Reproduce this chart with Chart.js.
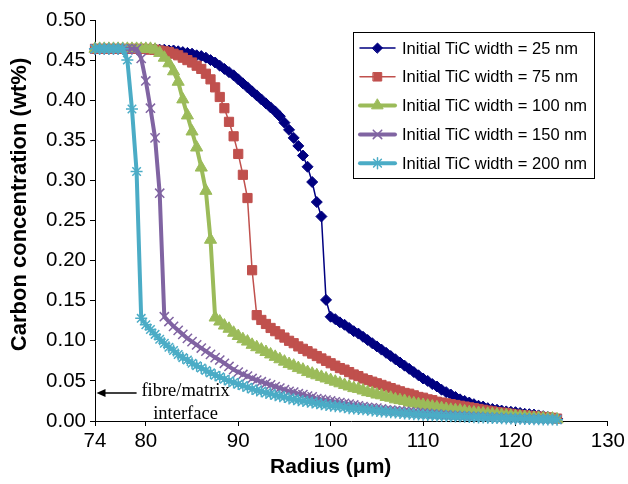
<!DOCTYPE html>
<html>
<head>
<meta charset="utf-8">
<script src="https://cdn.jsdelivr.net/npm/chart.js@4.4.0/dist/chart.umd.min.js"></script>
<style>
  body { margin: 0; background: #fff; }
  #wrap { width: 628px; height: 484px; }
</style>
</head>
<body>
<div id="wrap"><canvas id="chart" width="628" height="484"></canvas></div>
<script>
// radius grid (um), 0.5 um steps, one row = 5 um
const radius = [
  74.5, 75, 75.5, 76, 76.5, 77, 77.5, 78, 78.5, 79,
  79.5, 80, 80.5, 81, 81.5, 82, 82.5, 83, 83.5, 84,
  84.5, 85, 85.5, 86, 86.5, 87, 87.5, 88, 88.5, 89,
  89.5, 90, 90.5, 91, 91.5, 92, 92.5, 93, 93.5, 94,
  94.5, 95, 95.5, 96, 96.5, 97, 97.5, 98, 98.5, 99,
  99.5, 100, 100.5, 101, 101.5, 102, 102.5, 103, 103.5, 104,
  104.5, 105, 105.5, 106, 106.5, 107, 107.5, 108, 108.5, 109,
  109.5, 110, 110.5, 111, 111.5, 112, 112.5, 113, 113.5, 114,
  114.5, 115, 115.5, 116, 116.5, 117, 117.5, 118, 118.5, 119,
  119.5, 120, 120.5, 121, 121.5, 122, 122.5, 123, 123.5, 124,
  124.5
];

// carbon concentration (wt%) for each initial TiC width
const conc25 = [
  .464, .464, .464, .464, .464, .464, .464, .464, .464, .464,
  .464, .464, .464, .464, .463, .463, .462, .462, .461, .460,
  .459, .458, .456, .455, .453, .450, .447, .443, .439, .435,
  .431, .426, .421, .416, .411, .406, .401, .396, .391, .386,
  .380, .372, .363, .353, .343, .331, .317, .298, .273, .255,
  .151, .130, .127, .123, .120, .116, .112, .109, .105, .101,
  .097, .093, .089, .085, .081, .077, .073, .069, .065, .061,
  .057, .053, .050, .046, .043, .039, .036, .033, .030, .027,
  .025, .023, .021, .019, .018, .016, .015, .014, .013, .012,
  .0115, .011, .010, .009, .0085, .008, .007, .006, .005, .004,
  .003
];
const conc75 = [
  .464, .464, .464, .464, .464, .464, .464, .464, .464, .464,
  .464, .464, .463, .463, .462, .461, .460, .458, .456, .453,
  .450, .447, .443, .439, .433, .426, .416, .404, .390, .373,
  .355, .333, .307, .278, .188, .132, .126, .121, .116, .112,
  .108, .104, .100, .097, .093, .090, .087, .084, .081, .078,
  .075, .072, .069, .066, .064, .061, .058, .056, .053, .051,
  .049, .047, .045, .043, .041, .039, .037, .035, .034, .032,
  .030, .029, .027, .026, .024, .023, .022, .021, .020, .019,
  .018, .017, .016, .015, .014, .013, .012, .011, .0105, .010,
  .009, .008, .0075, .007, .0065, .006, .0055, .005, .0045, .004,
  .003
];
const conc100 = [
  .464, .464, .464, .464, .464, .464, .464, .464, .464, .464,
  .464, .464, .464, .463, .459, .453, .446, .436, .423, .401,
  .381, .361, .341, .316, .287, .226, .129, .124, .119, .115,
  .110, .106, .102, .099, .095, .092, .089, .086, .083, .080,
  .077, .074, .071, .069, .066, .064, .061, .059, .057, .055,
  .053, .051, .049, .047, .045, .043, .041, .040, .038, .036,
  .035, .033, .032, .030, .029, .027, .026, .025, .023, .022,
  .021, .020, .019, .018, .017, .016, .015, .014, .0135, .013,
  .012, .011, .0105, .010, .0095, .009, .0085, .008, .0075, .007,
  .0065, .006, .0055, .005, .0045, .004, .004, .0035, .003, .003,
  .002
];
const conc150 = [
  .464, .464, .464, .464, .464, .464, .464, .464, .464, .464,
  .452, .424, .390, .353, .284, .130, .124, .118, .113, .108,
  .103, .099, .095, .091, .087, .083, .079, .076, .072, .068,
  .064, .061, .058, .056, .053, .051, .049, .047, .045, .043,
  .041, .039, .037, .036, .034, .033, .031, .030, .028, .027,
  .026, .025, .024, .023, .022, .021, .020, .019, .018, .017,
  .0165, .016, .015, .014, .0135, .013, .0125, .012, .0115, .011,
  .0105, .010, .0095, .009, .0085, .008, .0075, .007, .0068, .0065,
  .006, .0058, .0055, .005, .0048, .0045, .0043, .004, .0038, .0035,
  .0033, .003, .003, .0028, .0026, .0025, .0023, .0022, .002, .002,
  .002
];
const conc200 = [
  .464, .464, .464, .464, .464, .464, .464, .450, .389, .311,
  .128, .120, .114, .108, .102, .097, .092, .088, .083, .079,
  .076, .072, .069, .066, .063, .060, .057, .055, .052, .050,
  .048, .046, .044, .042, .040, .038, .037, .035, .034, .032,
  .031, .030, .028, .027, .026, .025, .024, .023, .022, .021,
  .020, .019, .0185, .018, .017, .016, .0155, .015, .0145, .014,
  .013, .0125, .012, .0115, .011, .0105, .010, .0095, .009, .0085,
  .008, .0078, .0075, .0072, .007, .0065, .0062, .006, .0057, .0055,
  .0052, .005, .0047, .0045, .0043, .004, .0038, .0036, .0034, .0032,
  .003, .0029, .0028, .0026, .0025, .0023, .0022, .002, .002, .0018,
  .0015
];

const seriesNames = [
  'Initial TiC width = 25 nm',
  'Initial TiC width = 75 nm',
  'Initial TiC width = 100 nm',
  'Initial TiC width = 150 nm',
  'Initial TiC width = 200 nm'
];

const xMin = 74.5;
const xMax = 130;
const xTickValues = [74.5, 80, 90, 100, 110, 120, 130];
const xTickLabels = ['74', '80', '90', '100', '110', '120', '130'];
const yTickValues = [0, 0.05, 0.10, 0.15, 0.20, 0.25, 0.30, 0.35, 0.40, 0.45, 0.50];

const sansFont = '"Liberation Sans", Arial, sans-serif';
const serifFont = '"Liberation Serif", "Times New Roman", serif';

// look of each series (Excel 2007 palette)
const looks = [
  { color: '#000080', line: 1.5, point: 'rectRot', size: 5.5, pw: 1 },
  { color: '#C0504D', line: 1.5, point: 'rect', size: 6.5, pw: 1 },
  { color: '#9BBB59', line: 4, point: 'triangle', size: 7, pw: 1 },
  { color: '#8064A2', line: 4, point: 'crossRot', size: 6.5, pw: 1.5 },
  { color: '#4BACC6', line: 4, point: 'star', size: 6, pw: 1.5 }
];

const allConc = [conc25, conc75, conc100, conc150, conc200];

const datasets = allConc.map((conc, i) => ({
  label: seriesNames[i],
  data: radius.map((r, k) => ({ x: r, y: conc[k] })),
  borderColor: looks[i].color,
  backgroundColor: looks[i].color,
  borderWidth: looks[i].line,
  borderCapStyle: 'round',
  borderJoinStyle: 'round',
  pointStyle: looks[i].point,
  pointRadius: looks[i].size,
  pointBackgroundColor: looks[i].color,
  pointBorderColor: looks[i].color,
  pointBorderWidth: looks[i].pw,
  tension: 0,
  clip: false,
  order: 5 - i // last series ends up on top
}));

// boxed legend inside the plot, like the Excel one
const boxLegend = {
  id: 'boxLegend',
  afterDraw(chart) {
    const ctx = chart.ctx;
    const bx = 353.5, by = 32.5, bw = 241, bh = 146;
    ctx.save();
    ctx.fillStyle = '#fff';
    ctx.fillRect(bx, by, bw, bh);
    ctx.strokeStyle = '#000';
    ctx.lineWidth = 1;
    ctx.strokeRect(bx, by, bw, bh);
    chart.data.datasets.forEach((ds, i) => {
      const yy = by + 15.5 + i * 28.8;
      ctx.strokeStyle = ds.borderColor;
      ctx.lineWidth = ds.borderWidth;
      ctx.lineCap = 'round';
      ctx.beginPath();
      ctx.moveTo(360, yy);
      ctx.lineTo(395, yy);
      ctx.stroke();
      ctx.fillStyle = ds.pointBackgroundColor;
      ctx.strokeStyle = ds.pointBorderColor;
      ctx.lineWidth = ds.pointBorderWidth;
      Chart.helpers.drawPoint(ctx, {
        pointStyle: ds.pointStyle, radius: ds.pointRadius - 0.5,
        borderWidth: ds.pointBorderWidth, rotation: 0
      }, 377.5, yy);
      ctx.fillStyle = '#000';
      ctx.font = '16.5px ' + sansFont;
      ctx.textAlign = 'left';
      ctx.textBaseline = 'middle';
      ctx.fillText(ds.label, 402, yy + 1);
    });
    ctx.restore();
  }
};

// axis titles plus the "fibre/matrix interface" arrow
const notes = {
  id: 'notes',
  afterDraw(chart) {
    const { ctx, scales: { x, y } } = chart;
    const ay = y.getPixelForValue(0.035);
    const tip = x.getPixelForValue(xMin) + 1.5;
    const tail = x.getPixelForValue(79);
    ctx.save();
    ctx.strokeStyle = '#000';
    ctx.fillStyle = '#000';
    ctx.lineWidth = 1.5;
    ctx.beginPath();
    ctx.moveTo(tail, ay);
    ctx.lineTo(tip + 6, ay);
    ctx.stroke();
    ctx.beginPath();
    ctx.moveTo(tip, ay);
    ctx.lineTo(tip + 9, ay - 4);
    ctx.lineTo(tip + 9, ay + 4);
    ctx.closePath();
    ctx.fill();

    ctx.font = '18.5px ' + serifFont;
    ctx.textAlign = 'center';
    ctx.textBaseline = 'middle';
    const tx = x.getPixelForValue(84.3);
    ctx.fillText('fibre/matrix', tx, y.getPixelForValue(0.037));
    ctx.fillText('interface', tx, y.getPixelForValue(0.009));

    ctx.font = 'bold 21px ' + sansFont;
    ctx.fillText('Radius (\u03bcm)', x.getPixelForValue(100), 467);

    ctx.translate(20, y.getPixelForValue(0.27));
    ctx.rotate(-Math.PI / 2);
    ctx.font = 'bold 22px ' + sansFont;
    ctx.fillText('Carbon concentration (wt%)', 0, 0);
    ctx.restore();
  }
};

const axisGrid = {
  drawOnChartArea: false,
  drawTicks: true,
  tickLength: 5,
  color: '#000',
  lineWidth: 1
};

new Chart(document.getElementById('chart'), {
  type: 'line',
  data: { datasets },
  options: {
    responsive: false,
    animation: false,
    events: [],
    layout: { padding: { top: 20, right: 18, left: 0, bottom: 0 } },
    plugins: {
      legend: { display: false },
      tooltip: { enabled: false }
    },
    scales: {
      x: {
        type: 'linear',
        min: xMin,
        max: xMax,
        afterBuildTicks: (s) => { s.ticks = xTickValues.map(v => ({ value: v })); },
        afterFit: (s) => { s.height = 63; },
        grid: axisGrid,
        border: { display: true, color: '#000', width: 1 },
        ticks: {
          color: '#000',
          font: { family: sansFont, size: 20.5 },
          padding: 3,
          maxRotation: 0,
          autoSkip: false,
          callback: (v, i) => xTickLabels[i]
        }
      },
      y: {
        type: 'linear',
        min: 0,
        max: 0.5,
        afterBuildTicks: (s) => { s.ticks = yTickValues.map(v => ({ value: v })); },
        afterFit: (s) => { s.width = 95; },
        grid: axisGrid,
        border: { display: true, color: '#000', width: 1 },
        ticks: {
          color: '#000',
          font: { family: sansFont, size: 20.5 },
          padding: 4,
          callback: (v) => v.toFixed(2)
        }
      }
    }
  },
  plugins: [boxLegend, notes]
});
</script>
</body>
</html>
